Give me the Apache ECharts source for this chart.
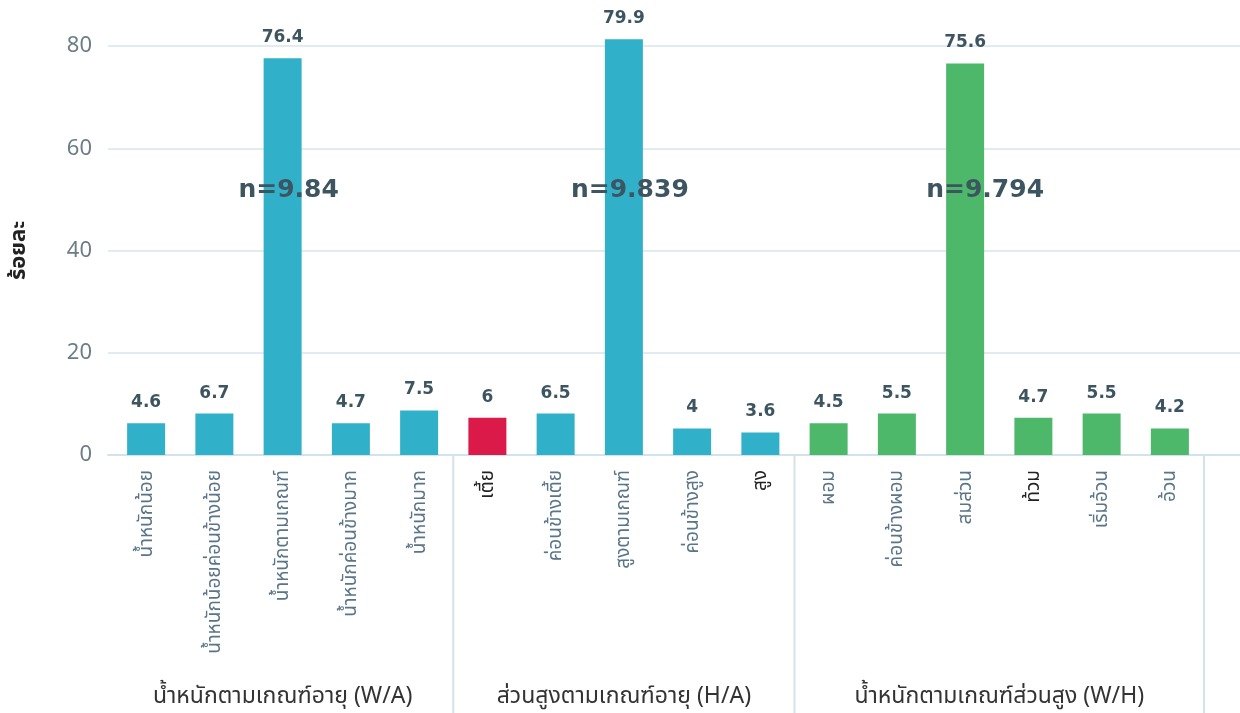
<!DOCTYPE html>
<html>
<head>
<meta charset="utf-8">
<script src="https://cdn.jsdelivr.net/npm/echarts@6/dist/echarts.min.js"></script>
<style>
  html, body { margin: 0; padding: 0; background: #fff; }
  #chart { width: 1240px; height: 713px; }
</style>
</head>
<body>
<div id="chart"></div>
<script>
var categories = [
    'น้ำหนักน้อย', 'น้ำหนักน้อยค่อนข้างน้อย', 'น้ำหนักตามเกณฑ์', 'น้ำหนักค่อนข้างมาก', 'น้ำหนักมาก',
    'เตี้ย', 'ค่อนข้างเตี้ย', 'สูงตามเกณฑ์', 'ค่อนข้างสูง', 'สูง',
    'ผอม', 'ค่อนข้างผอม', 'สมส่วน', 'ท้วม', 'เริ่มอ้วน', 'อ้วน'
];
// bar heights as drawn in the picture
var barHeights = [6.2, 8.1, 77.6, 6.2, 8.7, 7.3, 8.1, 81.3, 5.2, 4.4, 6.2, 8.1, 76.6, 7.3, 8.1, 5.2];
// value labels printed above the bars
var valueLabels = ['4.6', '6.7', '76.4', '4.7', '7.5', '6', '6.5', '79.9', '4', '3.6', '4.5', '5.5', '75.6', '4.7', '5.5', '4.2'];
var barGroups = [0, 0, 0, 0, 0, 1, 1, 1, 1, 1, 2, 2, 2, 2, 2, 2];
var highlighted = ['เตี้ย', 'สูง', 'ท้วม'];
var groupNames = ['น้ำหนักตามเกณฑ์อายุ (W/A)', 'ส่วนสูงตามเกณฑ์อายุ (H/A)', 'น้ำหนักตามเกณฑ์ส่วนสูง (W/H)'];
var groupSizes = [5, 5, 6];
var groupNotes = ['n=9.84', 'n=9.839', 'n=9.794'];
var noteLevel = 51.8;

var barColors = ['#31b1c9', '#31b1c9', '#4db86a'];
var redColor = '#dc1a4a';
var fontFam = '"Noto Sans", "Noto Sans Thai", Lato, sans-serif';
var numFont = '"DejaVu Sans", "Noto Sans", sans-serif';

var dom = document.getElementById('chart');
var myChart = echarts.init(dom);

var barData = barHeights.map(function (v, i) {
    var c = barColors[barGroups[i]];
    if (categories[i] === 'เตี้ย') c = redColor;
    return {
        value: v,
        itemStyle: { color: c },
        label: { formatter: valueLabels[i] }
    };
});

var axisData = categories.map(function (c) {
    if (highlighted.indexOf(c) >= 0) {
        return { value: c, textStyle: { color: '#222' } };
    }
    return c;
});

// put n= notes on the middle category of each group
var notePoints = [];
var start = 0;
groupSizes.forEach(function (s, g) {
    var mid = start + Math.floor((s - 1) / 2);
    notePoints.push({
        coord: [categories[mid], noteLevel],
        label: { formatter: groupNotes[g], offset: [g === 2 ? 20 : 6, 0] }
    });
    start += s;
});

var option = {
    animation: false,
    grid: [
        { left: 104, right: 0, top: 46, bottom: 258 },
        { left: 112, width: 1092, top: 46, bottom: 258 }
    ],
    xAxis: [
        {
            gridIndex: 0,
            type: 'category',
            data: [''],
            axisLine: { show: true, lineStyle: { color: '#d3e3ec', width: 2 } },
            axisTick: { show: false },
            axisLabel: { show: false }
        },
        {
            gridIndex: 1,
            type: 'category',
            data: axisData,
            axisLine: { show: false },
            axisTick: { show: false },
            axisLabel: {
                rotate: 90,
                margin: 15,
                color: '#5a7587',
                fontSize: 19,
                fontFamily: fontFam
            }
        }
    ],
    yAxis: [
        {
            gridIndex: 0,
            type: 'value',
            min: 0,
            max: 80,
            interval: 20,
            name: 'ร้อยละ',
            nameLocation: 'middle',
            nameRotate: 90,
            nameGap: 78,
            nameTextStyle: { color: '#222', fontSize: 22, fontWeight: 'bold', fontFamily: fontFam },
            axisLine: { show: false },
            axisTick: { show: false },
            axisLabel: { color: '#6c7d88', fontSize: 22, margin: 16, fontFamily: fontFam },
            splitLine: { lineStyle: { color: '#d6e6ee', width: 1.5 } }
        },
        {
            gridIndex: 1,
            type: 'value',
            min: 0,
            max: 80,
            interval: 20,
            show: false,
            splitLine: { show: false }
        }
    ],
    series: [
        {
            type: 'bar',
            xAxisIndex: 1,
            yAxisIndex: 1,
            barWidth: 38,
            clip: false,
            data: barData,
            label: {
                show: true,
                position: 'top',
                distance: 12,
                color: '#3d5560',
                fontSize: 17,
                fontWeight: 'bold',
                fontFamily: numFont
            },
            markPoint: {
                symbol: 'rect',
                symbolSize: 1,
                itemStyle: { color: 'rgba(0,0,0,0)' },
                label: {
                    show: true,
                    position: 'inside',
                    color: '#3d5560',
                    fontSize: 25,
                    fontWeight: 'bold',
                    fontFamily: numFont
                },
                data: notePoints
            }
        }
    ]
};

if (option && typeof option === "object") {
    myChart.setOption(option, true);
}

// group labels and separators from the axis scale
var graphics = [];
var idx = 0;
var baseY = myChart.convertToPixel({ yAxisIndex: 1 }, 0);
var half = myChart.convertToPixel({ xAxisIndex: 1 }, categories[1]) - myChart.convertToPixel({ xAxisIndex: 1 }, categories[0]);
half = half / 2;
groupSizes.forEach(function (s, g) {
    var x0 = myChart.convertToPixel({ xAxisIndex: 1 }, categories[idx]) - half;
    var x1 = myChart.convertToPixel({ xAxisIndex: 1 }, categories[idx + s - 1]) + half;
    graphics.push({
        type: 'line',
        shape: { x1: x1, y1: baseY, x2: x1, y2: 713 },
        style: { stroke: '#d3e3ec', lineWidth: 2 }
    });
    graphics.push({
        type: 'text',
        x: (x0 + x1) / 2,
        y: 696,
        style: {
            text: groupNames[g],
            fill: '#333',
            font: '23px ' + fontFam,
            textAlign: 'center',
            textVerticalAlign: 'middle'
        }
    });
    idx += s;
});
myChart.setOption({ graphic: graphics });
</script>
</body>
</html>
